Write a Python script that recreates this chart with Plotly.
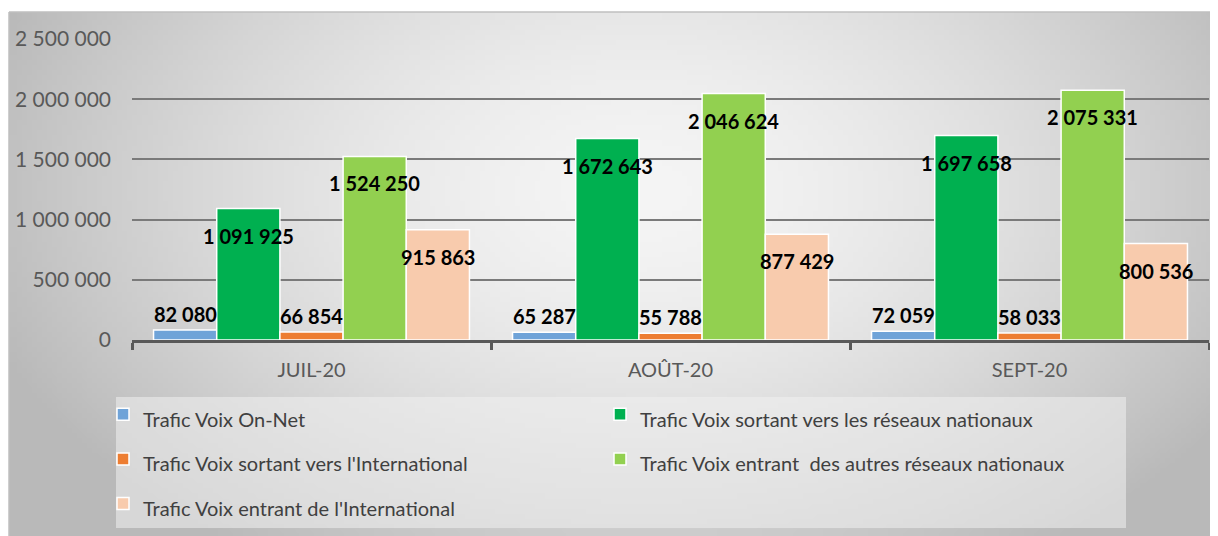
import base64, struct, zlib, math
import plotly.graph_objects as go

categories = ["JUIL-20", "AOÛT-20", "SEPT-20"]
series_names = [
    "Trafic Voix On-Net",
    "Trafic Voix sortant vers les réseaux nationaux",
    "Trafic Voix sortant vers l'International",
    "Trafic Voix entrant  des autres réseaux nationaux",
    "Trafic Voix entrant de l'International",
]
on_net = [82080, 65287, 72059]
sortant_nat = [1091925, 1672643, 1697658]
sortant_intl = [66854, 55788, 58033]
entrant_nat = [1524250, 2046624, 2075331]
entrant_intl = [915863, 877429, 800536]
series_values = [on_net, sortant_nat, sortant_intl, entrant_nat, entrant_intl]
colors = ["#6FA3D8", "#00B050", "#ED7D31", "#92D050", "#F8CBAD"]

# page body has an 8px margin; figure fills the rest of the 1218x536 window
OFF = 8
W, H = 1218 - OFF, 536 - OFF
# plot area in screen pixels: x 132..1209, y 39..340
SL, SR, ST, SB = 132, 1209, 39, 340
ML, MR, MT, MB = SL - OFF, 1218 - SR, ST - OFF, 536 - SB
PW, PH = SR - SL, SB - ST
BARGAP = 0.12
FONT = "Lato, 'Open Sans', sans-serif"


def px_x(p):
    return (p - SL) / PW


def px_y(p):
    return (SB - p) / PH


def gradient_png(w, h):
    rows = []
    for j in range(h):
        row = bytearray([0])
        for i in range(w):
            px = 9 + (1218 - 9) * i / (w - 1)
            py = 12 + (536 - 12) * j / (h - 1)
            d = math.sqrt(((px - 640) / 660) ** 2 + ((py - 190) / 420) ** 2)
            v = int(max(185, min(245, 245 - 55 * d ** 1.6)))
            row += bytes([v, v, v])
        rows.append(bytes(row))
    raw = b"".join(rows)

    def chunk(t, data):
        c = struct.pack(">I", len(data)) + t + data
        return c + struct.pack(">I", zlib.crc32(t + data) & 0xFFFFFFFF)

    png = b"\x89PNG\r\n\x1a\n" + chunk(b"IHDR", struct.pack(">IIBBBBB", w, h, 8, 2, 0, 0, 0))
    png += chunk(b"IDAT", zlib.compress(raw, 9)) + chunk(b"IEND", b"")
    return "data:image/png;base64," + base64.b64encode(png).decode()


fig = go.Figure()
for name, vals, col in zip(series_names, series_values, colors):
    fig.add_trace(go.Bar(
        x=categories, y=vals, name=f"<span style='font-size:20px'>{name}</span>",
        marker=dict(color=col, line=dict(color="white", width=1.5)),
        hovertemplate=name + "<br>%{x}: %{y}<extra></extra>",
    ))

bw = (1 - BARGAP) / len(series_names)
annotations = []
for j, vals in enumerate(series_values):
    for i, v in enumerate(vals):
        annotations.append(dict(
            x=i + (j - 2) * bw, y=v, xref="x", yref="y",
            text=f"{v:,}".replace(",", " "), showarrow=False,
            yanchor="middle", yshift=16 if v < 300000 else -27,
            font=dict(family=FONT, size=20, color="black", weight="bold"),
        ))

fig.update_layout(
    width=W, height=H,
    margin=dict(l=ML, r=MR, t=MT, b=MB, pad=0, autoexpand=False),
    paper_bgcolor="white", plot_bgcolor="rgba(0,0,0,0)",
    barmode="group", bargap=BARGAP, bargroupgap=0,
    separators=", ",
    font=dict(family=FONT, color="#595959"),
    images=[dict(
        source=gradient_png(240, 104), xref="paper", yref="paper",
        x=px_x(9), y=px_y(12), sizex=(1218 - 9) / PW, sizey=(536 - 12) / PH,
        xanchor="left", yanchor="top", sizing="stretch", layer="below",
    )],
    shapes=[
        dict(type="line", xref="paper", yref="paper",
             x0=px_x(9), x1=px_x(1218), y0=px_y(12), y1=px_y(12),
             line=dict(color="#bfbfbf", width=1.5), layer="below"),
        dict(type="line", xref="paper", yref="paper",
             x0=px_x(9), x1=px_x(9), y0=px_y(12), y1=px_y(536),
             line=dict(color="#bfbfbf", width=1.5), layer="below"),
        dict(type="rect", xref="paper", yref="paper",
             x0=px_x(116), x1=px_x(1126), y0=px_y(397), y1=px_y(528),
             fillcolor="rgba(240,240,240,0.55)", line=dict(width=0), layer="below"),
    ],
    xaxis=dict(
        type="category", tickson="boundaries", ticks="outside", ticklen=7,
        tickwidth=3, tickcolor="#595959", showline=True, linecolor="#595959",
        linewidth=3, showgrid=False, tickfont=dict(size=20, color="#595959"),
        ticklabelstandoff=10,
    ),
    yaxis=dict(
        range=[0, 2500000], dtick=500000, tickformat=",d", showgrid=True,
        gridcolor="#7a7a7a", gridwidth=1.5, zeroline=False, showline=False,
        tickfont=dict(size=21, color="#595959"), ticklabelstandoff=20,
    ),
    legend=dict(
        orientation="h", x=px_x(103), xanchor="left",
        y=px_y(387), yanchor="top", entrywidth=452,
        bgcolor="rgba(0,0,0,0)", font=dict(size=32, color="#404040"),
        traceorder="normal", itemclick=False, itemdoubleclick=False,
    ),
    annotations=annotations,
)

fig.write_html("out.html")
